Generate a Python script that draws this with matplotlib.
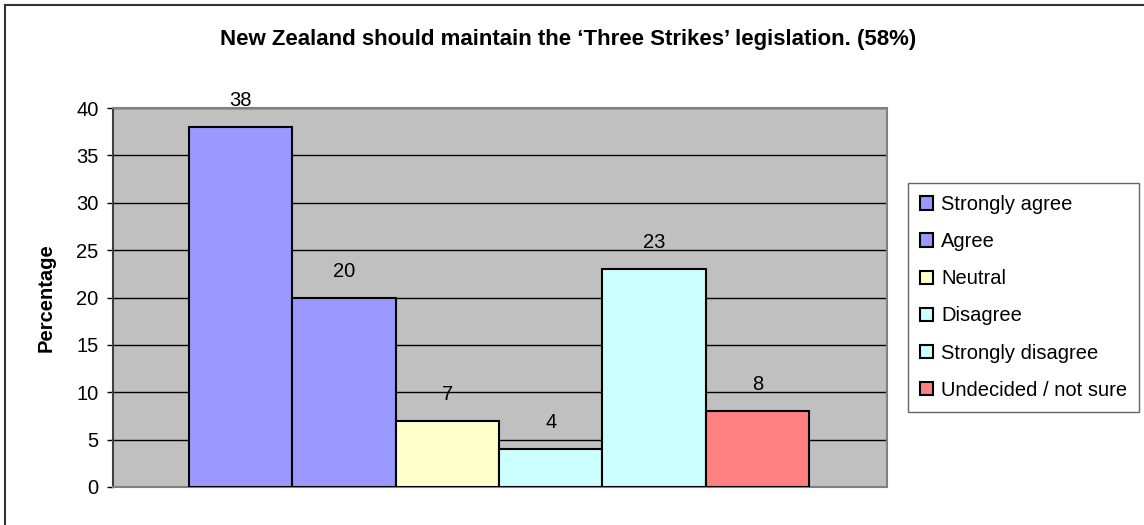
import matplotlib
matplotlib.use("Agg")
import matplotlib.pyplot as plt
from matplotlib.lines import Line2D

plt.rcParams['font.family'] = ['Liberation Sans', 'DejaVu Sans']

# Данные
categories = ["Strongly agree", "Agree", "Neutral", "Disagree",
              "Strongly disagree", "Undecided / not sure"]
values = [38, 20, 7, 4, 23, 8]
colors = ["#9999FF", "#9999FF", "#FFFFCC", "#CCFFFF", "#CCFFFF", "#FF8080"]
yticks = [0, 5, 10, 15, 20, 25, 30, 35, 40]
title = "New Zealand should maintain the \u2018Three Strikes\u2019 legislation. (58%)"

W, H = 1144, 525
fig = plt.figure(figsize=(W / 100, H / 100), dpi=100)
ax = fig.add_axes([113 / W, 1 - 487 / H, (887 - 113) / W, (487 - 108) / H])
ax.set_facecolor("#C0C0C0")

for i, (cat, val, col) in enumerate(zip(categories, values, colors)):
    ax.bar(i, val, width=1.0, color=col, edgecolor="black", linewidth=1.5,
           label=cat, zorder=3)
    ax.annotate(str(val), (i, val), xytext=(0, 19), textcoords="offset points",
                ha="center", va="center", fontsize=14.5, zorder=4)

ax.set_xlim(-1.236, 6.255)
ax.set_ylim(0, 40)
ax.set_yticks(yticks)
ax.set_xticks([])
ax.tick_params(axis="y", direction="out", length=4.5, width=1, pad=6,
               labelsize=14.5, colors="black")
ax.yaxis.grid(True, color="black", linewidth=1)
ax.set_axisbelow(True)
for s in ax.spines.values():
    s.set_color("#808080")
    s.set_linewidth(1.5)
ax.spines["left"].set_color("#404040")

ax.set_ylabel("Percentage", fontsize=14.5, fontweight="bold", labelpad=15)

fig.text(0.4965, 1 - 40 / H, title, ha="center", va="center",
         fontsize=16, fontweight="bold")

leg = ax.legend(loc="upper left", bbox_to_anchor=(908 / W, 1 - 183 / H),
                bbox_transform=fig.transFigure, borderaxespad=0,
                fontsize=14.5, frameon=True, fancybox=False, shadow=False,
                handlelength=0.65, handleheight=0.65, handletextpad=0.4,
                labelspacing=0.9, borderpad=0.6)
leg.get_frame().set_edgecolor("#404040")
leg.get_frame().set_linewidth(1)

# рамка вокруг диаграммы
fig.add_artist(Line2D([5 / W, 5 / W], [0, 1 - 5 / H], color="#333333", linewidth=1.5))
fig.add_artist(Line2D([5 / W, 1], [1 - 5 / H, 1 - 5 / H], color="#333333", linewidth=1.5))

fig.savefig("out.png", dpi=100, facecolor="white")
